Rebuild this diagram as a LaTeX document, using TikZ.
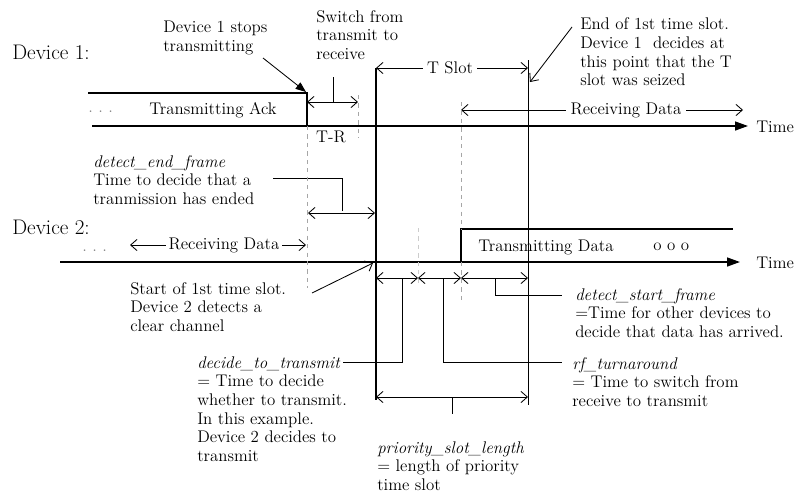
\documentclass[tikz,border=0pt]{standalone}
\usepackage{tikz}
\usetikzlibrary{arrows.meta,positioning}

\begin{document}
\begin{tikzpicture}[x=0.025cm,y=-0.025cm]
        \tikzstyle{txt}=[inner sep=0pt,align=left,anchor=west,
        font=\fontsize{12}{13.3}\selectfont]
        \tikzstyle{dev}=[inner sep=0pt,anchor=west,font=\fontsize{15}{17}\selectfont]
        \tikzstyle{gap}=[txt,anchor=center,fill=white,inner sep=3pt]
        \tikzstyle{sig}=[line width=0.9pt]
        \tikzstyle{axis}=[line width=1.1pt,-{Triangle[length=3.2mm,width=2.2mm]}]
        \tikzstyle{dim}=[semithick,{Straight Barb[length=1.6mm,width=2.8mm]}-{Straight Barb[length=1.6mm,width=2.8mm]}]
        \tikzstyle{ptr}=[semithick,-{Straight Barb[length=1.6mm,width=2.8mm]}]
        \tikzstyle{guide}=[gray!70,thin,dashed]
        \tikzstyle{lead}=[semithick]
        \useasboundingbox (0,0) rectangle (801,495);

        % Device 1 line:
        \node (dev1) [dev] at (12,52) {Device 1:};
        \coordinate (ax1_s) at (92,126);
        \coordinate (ax1_e) at (748,126);
        \node (time1) [txt] at (756,127) {Time};
        \coordinate (ack_s) at (88,93);
        \coordinate (ack_e) at (307,93);
        \coordinate (ack_d) at (307,126);
        \node (dots1) [txt,text=gray] at (88,112) {.\ .\ .};
        \node (ack) [txt,anchor=center] at (213,110) {Transmitting Ack};
        \draw[sig] (ack_s) -- (ack_e) -- (ack_d);
        \draw[axis] (ax1_s) -- (ax1_e);

        % Device 1 stops / switch:
        \node (stops) [txt] at (163,38) {Device 1 stops\\transmitting};
        \coordinate (stop_f) at (263,58);
        \coordinate (stop_t) at (306,92);
        \draw[semithick,-{Triangle[length=2.6mm,width=2mm]}] (stop_f) -- (stop_t);
        \node (switch) [txt] at (316,35) {Switch from\\transmit to\\receive};
        \coordinate (tr_l) at (307,102);
        \coordinate (tr_r) at (358,102);
        \coordinate (tr_k) at (333,77);
        \coordinate (tr_m) at (333,102);
        \draw[dim] (tr_l) -- (tr_r);
        \draw[lead] (tr_k) -- (tr_m);
        \node (tr) [txt,anchor=center] at (331,137) {T-R};
        \coordinate (g1_t) at (358,95);
        \coordinate (g1_b) at (358,138);
        \draw[guide] (g1_t) -- (g1_b);

        % Time slot:
        \coordinate (sl0_t) at (376,68);
        \coordinate (sl0_b) at (376,400);
        \coordinate (sl1_t) at (528,60);
        \coordinate (sl1_b) at (528,405);
        \coordinate (ts_r) at (528,68);
        \draw[line width=1.1pt] (sl0_t) -- (sl0_b);
        \draw[semithick] (sl1_t) -- (sl1_b);
        \draw[dim] (sl0_t) -- (ts_r);
        \node (tslot) [gap] at (450,68) {T Slot};
        \node (endslot) [txt] at (580,52) {End of 1st time slot.\\Device 1\ \ decides at\\this point that the T\\slot was seized};
        \coordinate (end_f) at (572,27);
        \coordinate (end_t) at (530,82);
        \draw[ptr] (end_f) -- (end_t);

        % Receiving data on device 1:
        \coordinate (rx1_l) at (461,110);
        \coordinate (rx1_r) at (743,110);
        \draw[dim] (rx1_l) -- (rx1_r);
        \node (rx1) [gap] at (626,110) {Receiving Data};

        % Device 2 line:
        \node (dev2) [dev] at (12,227) {Device 2:};
        \coordinate (ax2_s) at (60,262);
        \coordinate (ax2_e) at (740,262);
        \node (time2) [txt] at (756,263) {Time};
        \draw[axis] (ax2_s) -- (ax2_e);
        \node (dots2) [txt,text=gray] at (82,251) {.\ .\ .};
        \coordinate (rx2_l) at (130,245);
        \coordinate (rx2_r) at (306,245);
        \draw[dim] (rx2_l) -- (rx2_r);
        \node (rx2) [gap,inner sep=2pt] at (224,245) {Receiving Data};

        % detect end frame:
        \node (detend) [txt] at (93,180) {\textit{detect\_end\_frame}\\Time to decide that a\\tranmission has ended};
        \coordinate (de_a) at (273,178);
        \coordinate (de_b) at (342,178);
        \coordinate (de_c) at (342,211);
        \coordinate (de_l) at (308,213);
        \coordinate (de_r) at (375,213);
        \draw[lead] (de_a) -- (de_b) -- (de_c);
        \draw[dim] (de_l) -- (de_r);

        % Transmitting data on device 2:
        \coordinate (tx_0) at (461,262);
        \coordinate (tx_1) at (461,229);
        \coordinate (tx_2) at (733,229);
        \draw[sig] (tx_0) -- (tx_1) -- (tx_2);
        \node (tx) [txt] at (478,247) {Transmitting Data};
        \node (ooo) [txt] at (653,247) {o o o};

        % guides:
        \coordinate (g0_t) at (307,126);
        \coordinate (g0_b) at (307,288);
        \coordinate (g2_t) at (461,102);
        \coordinate (g2_m) at (461,300);
        \coordinate (g3_t) at (418,228);
        \coordinate (g3_b) at (418,285);
        \draw[guide] (g0_t) -- (g0_b);
        \draw[guide] (g2_t) -- (tx_1);
        \draw[guide] (tx_0) -- (g2_m);
        \draw[guide,gray!40] (g3_t) -- (g3_b);

        % Start of slot:
        \node (start) [txt] at (130,307) {Start of 1st time slot.\\Device 2 detects a\\clear channel};
        \coordinate (st_f) at (312,293);
        \coordinate (st_t) at (373,263);
        \draw[ptr] (st_f) -- (st_t);

        % Priority slot parts:
        \coordinate (p0) at (376,278);
        \coordinate (p1) at (418,278);
        \coordinate (p2) at (461,278);
        \coordinate (p3) at (528,278);
        \draw[dim] (p0) -- (p1);
        \draw[dim] (p1) -- (p2);
        \draw[dim] (p2) -- (p3);
        \coordinate (k1_a) at (402,278);
        \coordinate (k1_b) at (402,362);
        \coordinate (k1_c) at (343,362);
        \coordinate (k2_a) at (443,278);
        \coordinate (k2_b) at (443,362);
        \coordinate (k2_c) at (562,362);
        \coordinate (k3_a) at (495,278);
        \coordinate (k3_b) at (495,295);
        \coordinate (k3_c) at (562,295);
        \draw[lead] (k1_a) -- (k1_b) -- (k1_c);
        \draw[lead] (k2_a) -- (k2_b) -- (k2_c);
        \draw[lead] (k3_a) -- (k3_b) -- (k3_c);

        \node (detstart) [txt] at (575,313) {\textit{detect\_start\_frame}\\=Time for other devices to\\decide that data has arrived.};
        \node (rf) [txt] at (572,382) {\textit{rf\_turnaround}\\= Time to switch from\\receive to transmit};
        \node (decide) [txt] at (197,409) {\textit{decide\_to\_transmit}\\= Time to decide\\whether to transmit.\\In this example.\\Device 2 decides to\\transmit};

        % Priority slot length:
        \coordinate (pr_l) at (376,397);
        \coordinate (pr_r) at (528,397);
        \coordinate (pr_k0) at (452,397);
        \coordinate (pr_k1) at (452,414);
        \draw[dim] (pr_l) -- (pr_r);
        \draw[lead] (pr_k0) -- (pr_k1);
        \node (prio) [txt] at (377,466) {\textit{priority\_slot\_length}\\= length of priority\\time slot};
\end{tikzpicture}
\end{document}
